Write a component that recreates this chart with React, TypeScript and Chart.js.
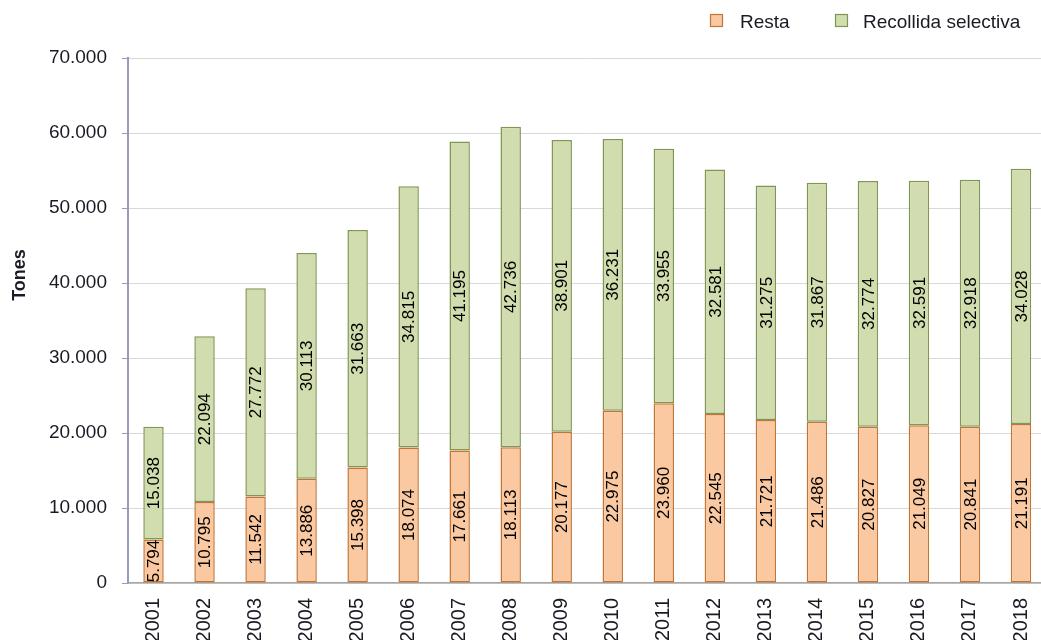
import React, { useEffect, useRef } from "react";
import { Chart, registerables } from "chart.js";

Chart.register(...registerables);

const years = ["2001","2002","2003","2004","2005","2006","2007","2008","2009","2010","2011","2012","2013","2014","2015","2016","2017","2018"];
const resta = [5794, 10795, 11542, 13886, 15398, 18074, 17661, 18113, 20177, 22975, 23960, 22545, 21721, 21486, 20827, 21049, 20841, 21191];
const recollida = [15038, 22094, 27772, 30113, 31663, 34815, 41195, 42736, 38901, 36231, 33955, 32581, 31275, 31867, 32774, 32591, 32918, 34028];
const seriesNames = ["Resta", "Recollida selectiva"];
const yTitle = "Tones";

const restaFill = "#fbc9a1";
const restaBorder = "#c27535";
const recFill = "#d1ddae";
const recBorder = "#7f9655";
const textColor = "#1a1a24";

const fmt = (v: number) => {
  const s = Math.round(v).toString();
  return s.replace(/\B(?=(\d{3})+(?!\d))/g, ".");
};

const overlay = {
  id: "overlay",
  afterDatasetsDraw(chart: any) {
    const ctx = chart.ctx;
    ctx.save();
    // data labels
    ctx.font = "17px 'Liberation Sans', Arial, sans-serif";
    ctx.fillStyle = "#000";
    ctx.textAlign = "center";
    ctx.textBaseline = "middle";
    chart.data.datasets.forEach((ds: any, di: number) => {
      const meta = chart.getDatasetMeta(di);
      meta.data.forEach((bar: any, i: number) => {
        const cy = (bar.y + bar.base) / 2;
        ctx.save();
        ctx.translate(bar.x + 1, cy);
        ctx.rotate(-Math.PI / 2);
        ctx.fillText(fmt(ds.data[i]), 0, 0);
        ctx.restore();
      });
    });
    // y title
    ctx.save();
    ctx.font = "bold 18px 'Liberation Sans', Arial, sans-serif";
    ctx.fillStyle = textColor;
    ctx.translate(20, 275);
    ctx.rotate(-Math.PI / 2);
    ctx.fillText(yTitle, 0, 0);
    ctx.restore();
    // legend
    ctx.font = "19px 'Liberation Sans', Arial, sans-serif";
    ctx.textAlign = "left";
    ctx.textBaseline = "middle";
    const items = [
      { x: 710, tx: 740, fill: restaFill, border: restaBorder, label: seriesNames[0] },
      { x: 835, tx: 863, fill: recFill, border: recBorder, label: seriesNames[1] },
    ];
    items.forEach((it) => {
      ctx.fillStyle = it.fill;
      ctx.fillRect(it.x, 14, 12, 12);
      ctx.strokeStyle = it.border;
      ctx.lineWidth = 1.2;
      ctx.strokeRect(it.x + 0.5, 14.5, 12, 12);
      ctx.fillStyle = textColor;
      ctx.fillText(it.label, it.tx, 23);
    });
    ctx.restore();
  },
};

export default function App() {
  const ref = useRef<HTMLCanvasElement | null>(null);
  useEffect(() => {
    document.body.style.overflow = "hidden";
    const chart = new Chart(ref.current as HTMLCanvasElement, {
      type: "bar",
      data: {
        labels: years,
        datasets: [
          {
            label: seriesNames[0],
            data: resta,
            backgroundColor: restaFill,
            borderColor: restaBorder,
            borderWidth: 1.5,
            borderSkipped: false,
            barPercentage: 0.8,
            categoryPercentage: 0.5,
          },
          {
            label: seriesNames[1],
            data: recollida,
            backgroundColor: recFill,
            borderColor: recBorder,
            borderWidth: 1.5,
            borderSkipped: false,
            barPercentage: 0.8,
            categoryPercentage: 0.5,
          },
        ],
      },
      options: {
        animation: false,
        responsive: false,
        maintainAspectRatio: false,
        layout: { padding: { top: 58, right: 3.5, left: 0, bottom: 0 } },
        plugins: { legend: { display: false }, tooltip: { enabled: false } },
        scales: {
          x: {
            stacked: true,
            grid: { display: true, drawOnChartArea: false, drawTicks: false },
            border: { color: "#a6a6a6", width: 1.5 },
            ticks: {
              maxRotation: 90,
              minRotation: 90,
              padding: 15,
              color: textColor,
              font: { family: "'Liberation Sans', Arial, sans-serif", size: 20 },
            },
            afterFit: (s: any) => {
              s.height = 57;
              s.paddingLeft = 0;
              s.paddingRight = 0;
            },
          },
          y: {
            stacked: true,
            min: 0,
            max: 70000,
            grid: { color: "#d9d9d9", tickLength: 6, tickColor: "#9a9ac0", lineWidth: 1 },
            border: { color: "#9a9ac0", width: 2 },
            ticks: {
              stepSize: 10000,
              padding: 15,
              color: textColor,
              font: { family: "'Liberation Sans', Arial, sans-serif", size: 19 },
              callback: (v: any) => fmt(Number(v)),
            },
            afterFit: (s: any) => {
              s.width = 128;
              s.paddingTop = 0;
              s.paddingBottom = 0;
            },
          },
        },
      },
      plugins: [overlay],
    });
    return () => chart.destroy();
  }, []);
  return (
    <div style={{ position: "fixed", left: 0, top: 0, width: 1050, height: 640 }}>
      <canvas ref={ref} width={1050} height={640} style={{ display: "block" }} />
    </div>
  );
}
